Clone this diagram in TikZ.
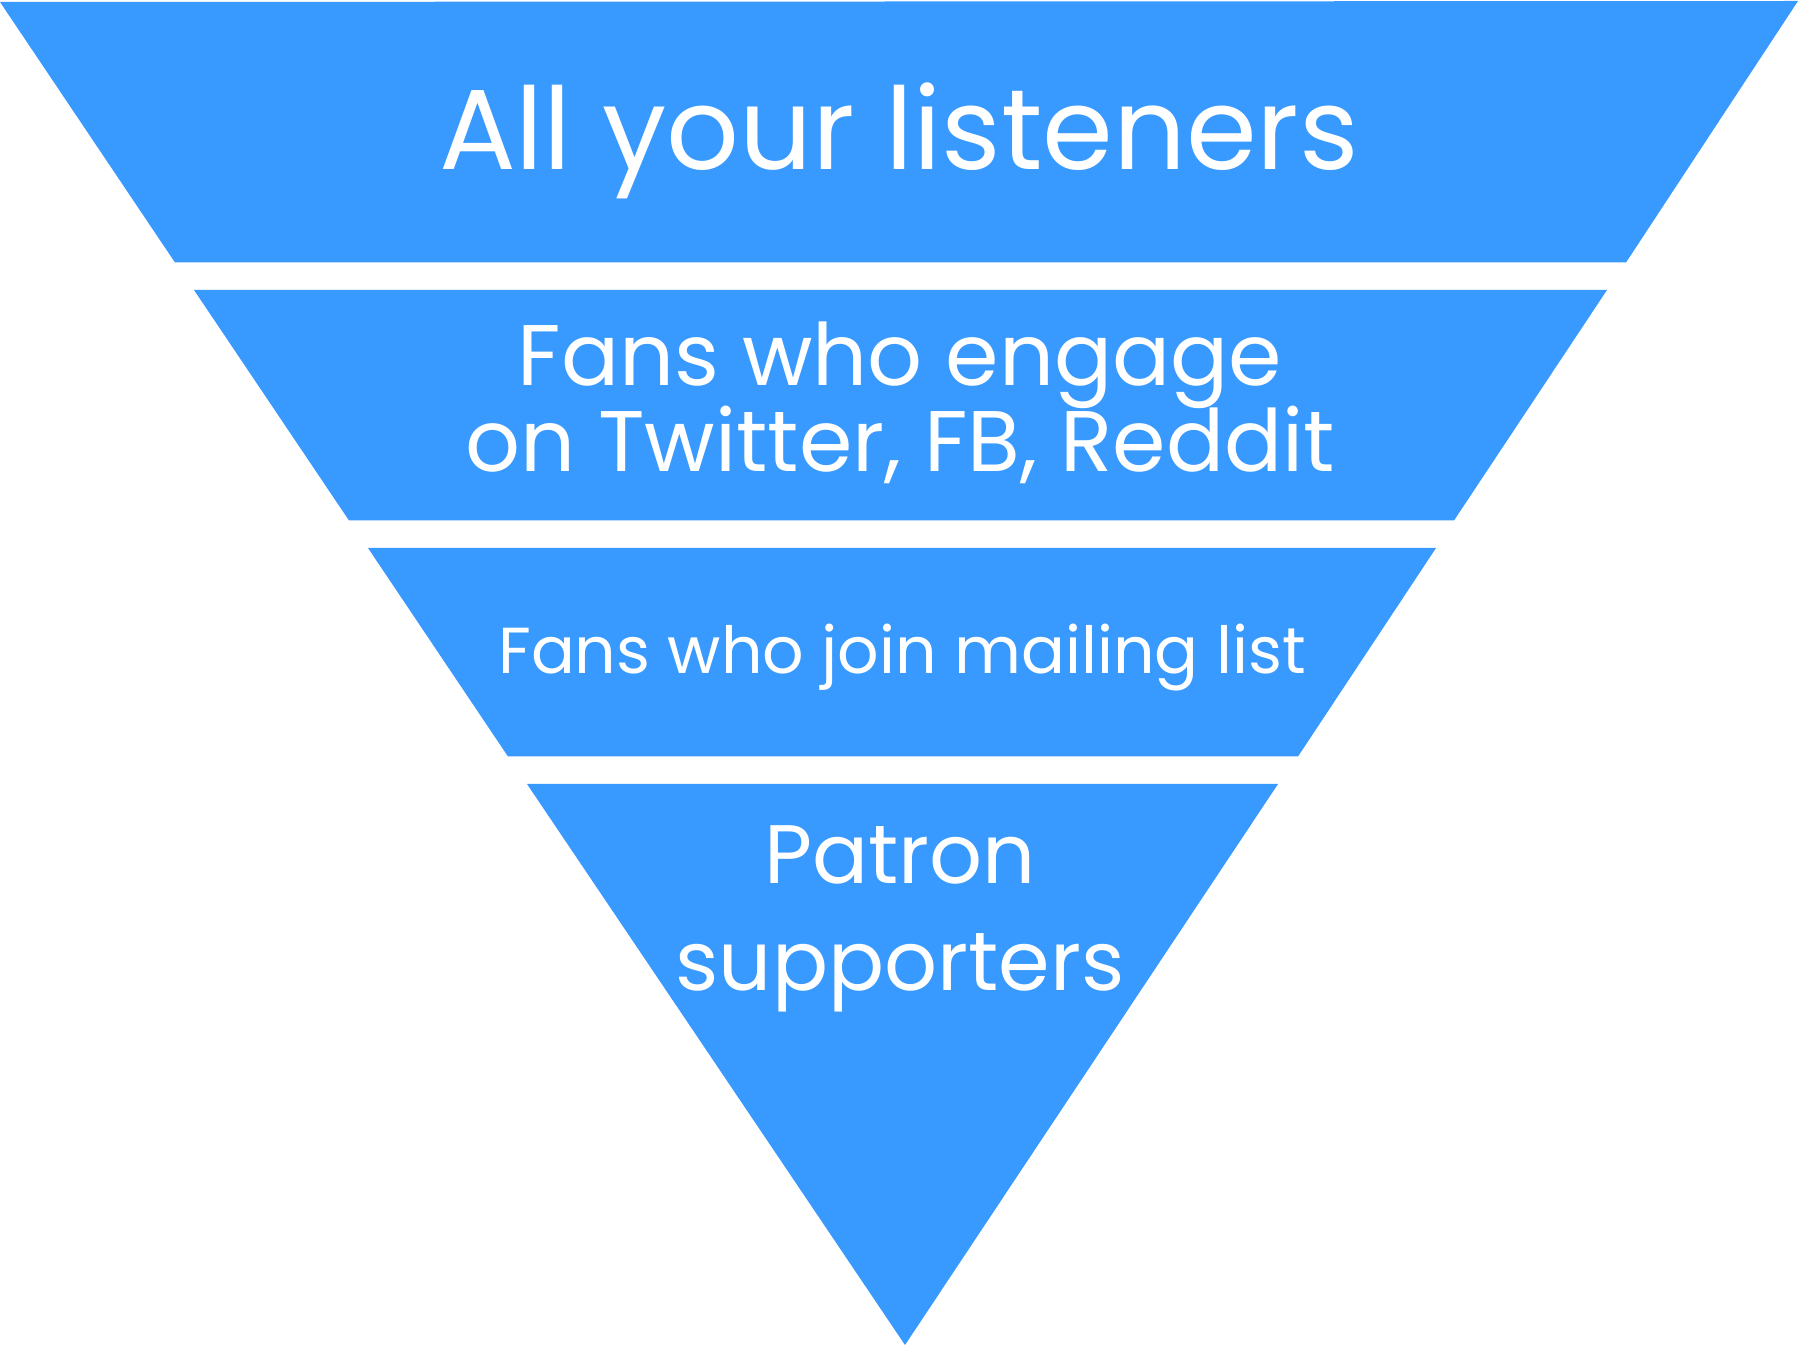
\documentclass[tikz,border=0pt]{standalone}
\usepackage{fontspec}
\setmainfont{Poppins}
\definecolor{funnelblue}{HTML}{3899FF}
\begin{document}
\begin{tikzpicture}[x=0.5pt,y=-0.5pt,
  layer/.style={fill=funnelblue,draw=none},
  lbl/.style={text=white,anchor=base,inner sep=0pt,outer sep=0pt}]
\useasboundingbox (0,0) rectangle (1800,1347);
% funnel layers
\path[layer] (0,2) -- (1798,1) -- (1626,262.5) -- (175,262.5) -- cycle;
\path[layer] (194,290) -- (1607,290) -- (1454,520.5) -- (349,520.5) -- cycle;
\path[layer] (368,548) -- (1436,548) -- (1298,756.5) -- (508,756.5) -- cycle;
\path[layer] (527,784) -- (1278,784) -- (905,1345) -- cycle;
% labels
\node[lbl,font=\fontsize{57}{60}\selectfont] (l1) at (899,170) {All your listeners};
\node[lbl,font=\fontsize{43}{45}\selectfont] (l2a) at (900,386) {Fans who engage};
\node[lbl,font=\fontsize{43}{45}\selectfont] (l2b) at (900,472) {on Twitter, FB, Reddit};
\node[lbl,font=\fontsize{32.5}{34}\selectfont] (l3) at (902,674) {Fans who join mailing list};
\node[lbl,font=\fontsize{41.5}{44}\selectfont] (l4a) at (900,883) {Patron};
\node[lbl,font=\fontsize{41.5}{44}\selectfont] (l4b) at (900,990) {supporters};
\end{tikzpicture}
\end{document}
